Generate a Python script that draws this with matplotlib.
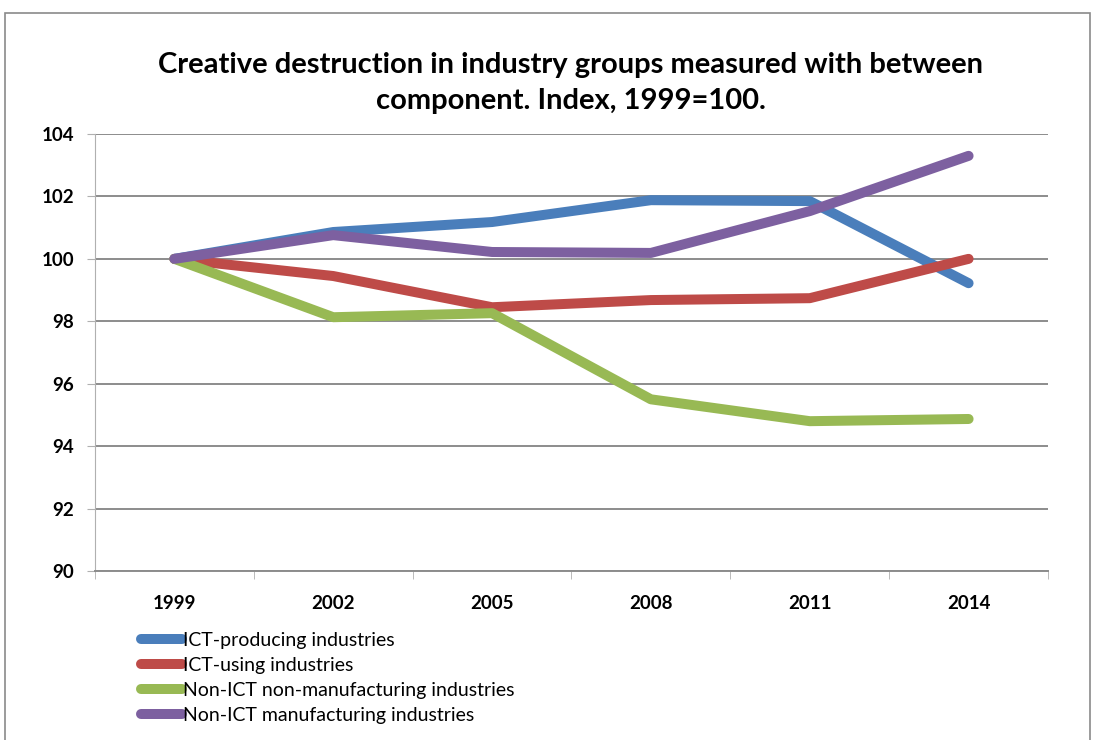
from matplotlib import pyplot as plt
from matplotlib.patches import Rectangle
import numpy as np

plt.rcParams['font.family'] = ['Lato', 'DejaVu Sans']

#---------------------------------------------------------------------------
#   dati: indice 1999=100 per gruppo di industrie
#---------------------------------------------------------------------------
years = ['1999', '2002', '2005', '2008', '2011', '2014']
ict_producing = [100.0, 100.86, 101.18, 101.88, 101.85, 99.22]
ict_using = [100.0, 99.45, 98.45, 98.68, 98.74, 100.0]
non_ict_non_manuf = [100.0, 98.13, 98.26, 95.5, 94.8, 94.87]
non_ict_manuf = [100.0, 100.76, 100.22, 100.19, 101.53, 103.3]

series = [
    ('ICT-producing industries', ict_producing, '#4A7EBB'),
    ('ICT-using industries', ict_using, '#BE4B48'),
    ('Non-ICT non-manufacturing industries', non_ict_non_manuf, '#98B954'),
    ('Non-ICT manufacturing industries', non_ict_manuf, '#7D60A0'),
]

fig = plt.figure(figsize=(10.94, 7.40), dpi=100)
# cornice grigia del grafico
fig.patches.append(Rectangle((5 / 1094, -0.01), 1085 / 1094, 1 - 13 / 740 + 0.01,
                             transform=fig.transFigure, fill=False,
                             edgecolor='#8a8a8a', linewidth=1.2))

ax = fig.add_axes([95 / 1094, 1 - 571 / 740, 953 / 1094, 437 / 740])
x = np.arange(len(years))
for name, vals, col in series:
    ax.plot(x, vals, color=col, linewidth=7.2, solid_capstyle='round',
            solid_joinstyle='round', label=name)

ax.set_ylim(90, 104)
ax.set_yticks(np.arange(90, 105, 2))
ax.set_xlim(-0.5, len(years) - 0.5)
ax.set_xticks(x)
ax.set_xticklabels(years, fontweight='bold', fontsize=13.5)
ax.set_xticks(np.arange(-0.5, len(years), 1), minor=True)
for lab in ax.get_yticklabels():
    lab.set_fontweight('bold')
    lab.set_fontsize(13.5)

ax.grid(axis='y', color='#8c8c8c', linewidth=1.4)
ax.set_axisbelow(True)
for s in ['top', 'right']:
    ax.spines[s].set_visible(False)
ax.spines['left'].set_color('#b0b0b0')
ax.spines['bottom'].set_color('#8c8c8c')
ax.spines['bottom'].set_linewidth(1.4)
ax.tick_params(axis='y', length=6, color='#b0b0b0', pad=9)
ax.tick_params(axis='x', which='major', length=0, pad=17)
ax.tick_params(axis='x', which='minor', length=6, color='#b0b0b0')

fig.text(571 / 1094, 1 - 83 / 740,
         'Creative destruction in industry groups measured with between\ncomponent. Index, 1999=100.',
         ha='center', va='center', fontsize=21, fontweight='bold', linespacing=1.5)

leg = fig.legend(loc='upper left', bbox_to_anchor=(133 / 1094, 1 - 624 / 740),
                 frameon=False, fontsize=14, handlelength=2.1, handletextpad=0.05,
                 labelspacing=0.42, borderaxespad=0)

fig.savefig('out.png', dpi=100)
